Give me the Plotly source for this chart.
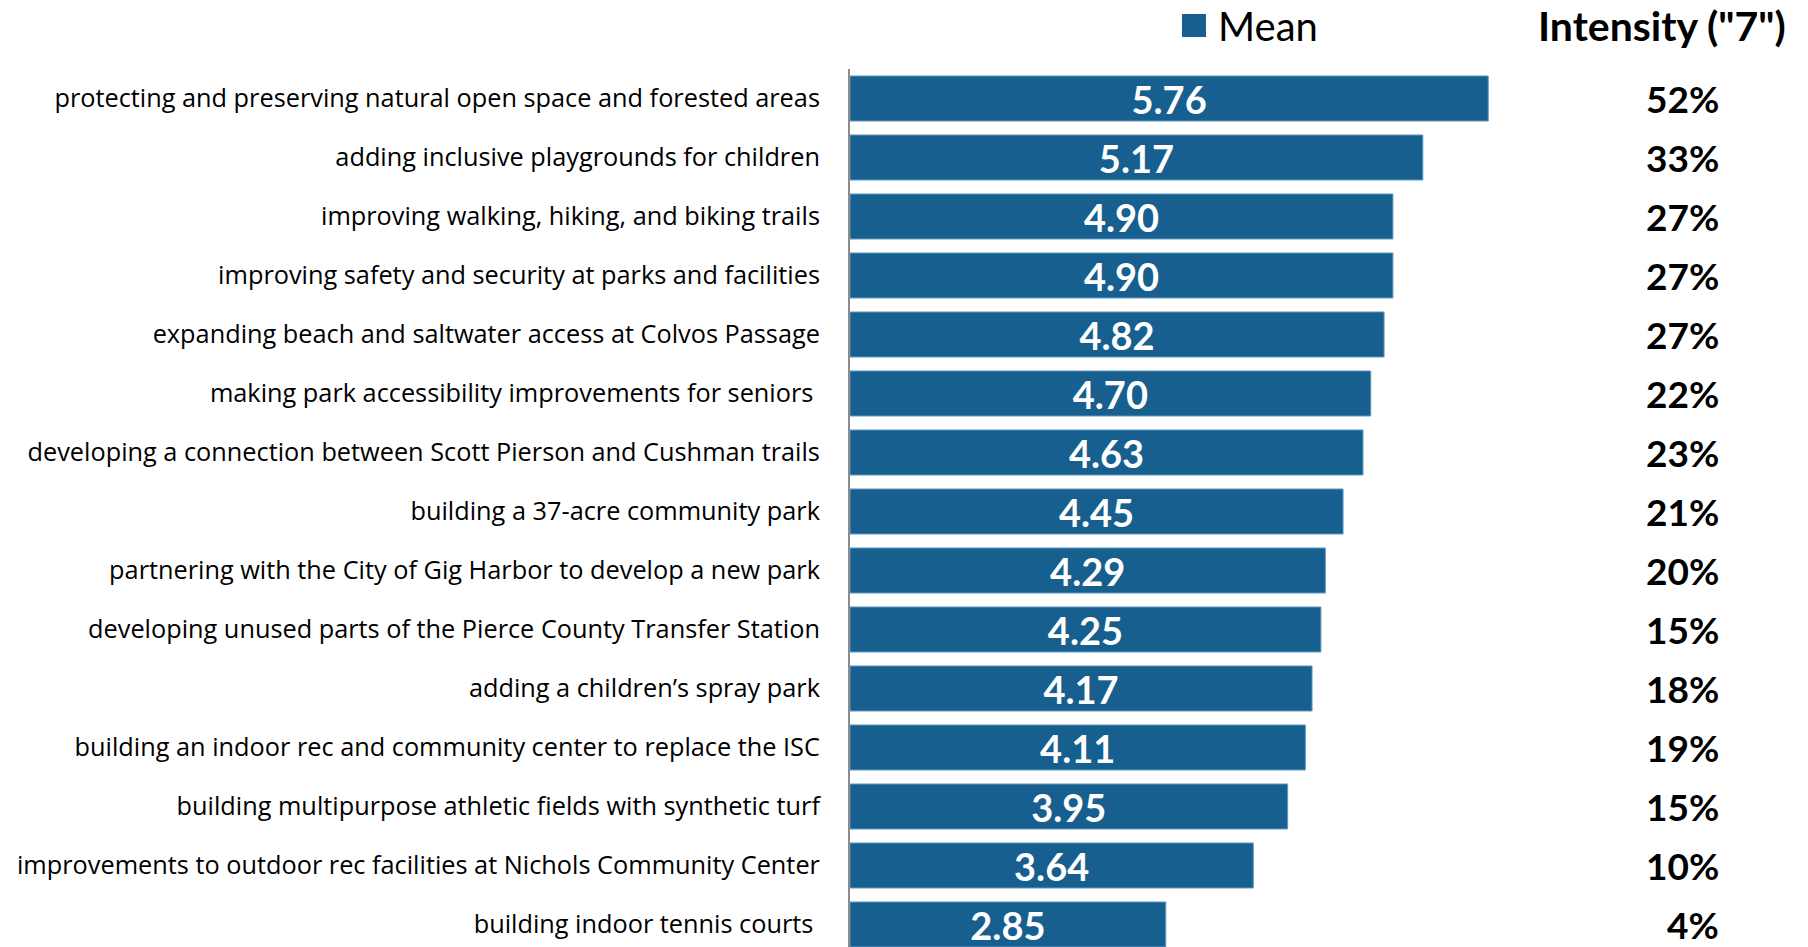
import plotly.graph_objects as go

categories = [
    "protecting and preserving natural open space and forested areas",
    "adding inclusive playgrounds for children",
    "improving walking, hiking, and biking trails",
    "improving safety and security at parks and facilities",
    "expanding beach and saltwater access at Colvos Passage",
    "making park accessibility improvements for seniors\u00a0",
    "developing a connection between Scott Pierson and Cushman trails",
    "building a 37-acre community park",
    "partnering with the City of Gig Harbor to develop a new park",
    "developing unused parts of the Pierce County Transfer Station",
    "adding a children\u2019s spray park",
    "building an indoor rec and community center to replace the ISC",
    "building multipurpose athletic fields with synthetic turf",
    "improvements to outdoor rec facilities at Nichols Community Center",
    "building indoor tennis courts\u00a0",
]
mean_values = [5.76, 5.17, 4.90, 4.90, 4.82, 4.70, 4.63, 4.45, 4.29, 4.25, 4.17, 4.11, 3.95, 3.64, 2.85]
intensity = ["52%", "33%", "27%", "27%", "27%", "22%", "23%", "21%", "20%", "15%", "18%", "19%", "15%", "10%", "4%"]

BAR = "#165F8F"
FONT = "Lato"
LABEL_FONT = "Open Sans"
OFF = 8  # page body margin
W, H = 1800, 939
ML, MR, MT, MB = 850 - OFF, 300, 69 - OFF, 0
plot_w = W - ML - MR
plot_h = H - MT - MB
px_per_unit = 110.8
xmax = plot_w / px_per_unit
n = len(categories)
pos = list(range(n))

fig = go.Figure()
fig.add_trace(go.Bar(
    y=pos, x=mean_values, orientation="h",
    marker=dict(color=BAR, line=dict(color="#5E9AC6", width=1)),
    text=mean_values, texttemplate="%{x:.2f}",
    textposition="inside", insidetextanchor="middle",
    constraintext="none",
    textfont=dict(family=FONT, size=38, color="white", weight="bold"),
    showlegend=False, hoverinfo="skip",
))


def px_x(px):
    return (px - OFF - ML) / plot_w


def px_y(py):
    return 1 - (py - OFF - MT) / plot_h


annotations = []
for i, p in enumerate(intensity):
    annotations.append(dict(
        x=px_x(1721), xref="paper", y=i, yref="y", text=p, showarrow=False,
        xanchor="right", yanchor="middle",
        font=dict(family=FONT, size=37, color="black", weight="bold"),
    ))

annotations.append(dict(
    x=px_x(1217), xref="paper", y=px_y(26), yref="paper", text="Mean",
    showarrow=False, xanchor="left", yanchor="middle", borderpad=0,
    font=dict(family=FONT, size=40, color="black"),
))
annotations.append(dict(
    x=px_x(1537), xref="paper", y=px_y(26), yref="paper", text='Intensity ("7")',
    showarrow=False, xanchor="left", yanchor="middle", borderpad=0,
    font=dict(family=FONT, size=41, color="black", weight="bold"),
))

fig.update_layout(
    width=W, height=H,
    margin=dict(l=ML, r=MR, t=MT, b=MB, pad=0),
    paper_bgcolor="white", plot_bgcolor="white",
    bargap=0.237,
    annotations=annotations,
    shapes=[dict(type="rect", xref="paper", yref="paper",
                 x0=px_x(1182), x1=px_x(1206), y0=px_y(37), y1=px_y(14),
                 fillcolor=BAR, line=dict(width=0))],
    xaxis=dict(range=[0, xmax], visible=False, fixedrange=True),
    yaxis=dict(
        range=[n - 1 + 22.5 / 59, -0.5],
        tickmode="array", tickvals=pos, ticktext=categories,
        showline=True, linecolor="#8C8C8C", linewidth=2,
        ticks="outside", ticklen=23, tickcolor="rgba(0,0,0,0)",
        tickfont=dict(family=LABEL_FONT, size=25.3, color="black"),
        showgrid=False, zeroline=False, fixedrange=True,
    ),
)

fig.write_html("out.html")
